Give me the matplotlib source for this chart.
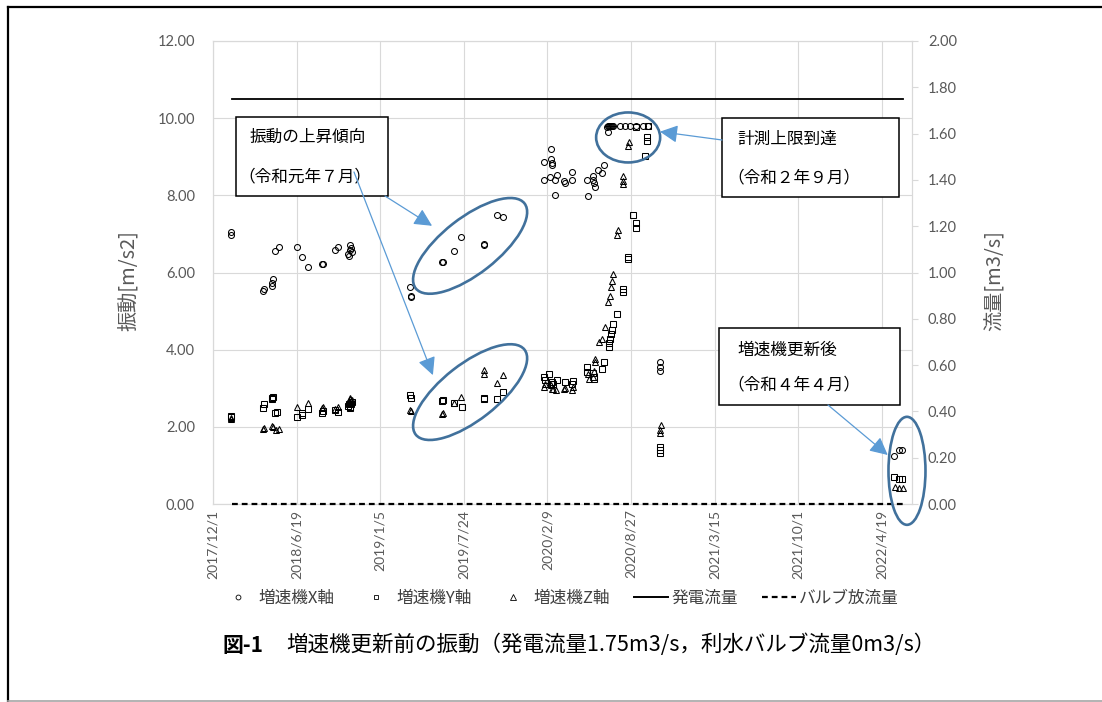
"""Gearbox vibration before replacement, with design flow on the right axis."""
import numpy as np
import matplotlib.pyplot as plt
import matplotlib.transforms as mtransforms
from matplotlib.patches import Ellipse, Rectangle, ConnectionPatch
from matplotlib.lines import Line2D
from matplotlib.ticker import FormatStrFormatter

plt.rcParams['font.family'] = ['Noto Sans CJK JP', 'DejaVu Sans']

START = np.datetime64('2017-12-01')

# measurement day (counted from START) and vibration [m/s2] per axis
x_day = [43, 43, 120, 122, 141, 141, 143, 148, 158, 201, 213, 227, 261, 262, 292, 299,
         323, 325, 327, 328, 330, 332, 471, 474, 474, 548, 549, 576, 593, 648, 649, 679, 694,
         792, 792, 806, 808, 808, 811, 811, 818, 818, 823, 839, 842, 859, 859, 894, 897,
         909, 909, 911, 914, 921, 930, 935, 942, 945, 945, 947, 950, 952, 955, 957, 973,
         985, 997, 1011, 1028, 1040, 1069, 1069, 1069, 1629, 1641, 1648]
x_val = [7.05, 6.97, 5.52, 5.58, 5.64, 5.72, 5.84, 6.55, 6.66, 6.65, 6.40, 6.15, 6.21, 6.23, 6.59, 6.66,
         6.48, 6.42, 6.58, 6.70, 6.63, 6.52, 5.62, 5.40, 5.37, 6.27, 6.28, 6.57, 6.91, 6.74, 6.72, 7.50, 7.45,
         8.87, 8.40, 8.48, 9.20, 8.94, 8.85, 8.79, 8.02, 8.40, 8.53, 8.38, 8.33, 8.61, 8.40, 8.40, 7.97,
         8.51, 8.41, 8.33, 8.21, 8.66, 8.57, 8.79, 9.76, 9.63, 9.80, 9.80, 9.80, 9.80, 9.80, 9.80, 9.80,
         9.80, 9.80, 9.80, 9.80, 9.80, 3.68, 3.55, 3.45, 1.24, 1.40, 1.40]

y_day = [43, 43, 120, 122, 141, 141, 143, 148, 153, 201, 213, 214, 227, 261, 262, 292, 299,
         323, 325, 327, 328, 330, 332, 471, 474, 548, 549, 576, 596, 648, 649, 679, 694,
         792, 794, 804, 808, 811, 813, 823, 842, 859, 862, 894, 894, 909, 911, 911, 930, 935,
         947, 947, 950, 952, 955, 957, 966, 981, 981, 993, 993, 1004, 1011, 1011, 1011, 1033,
         1038, 1038, 1040, 1069, 1069, 1069, 1629, 1641, 1648]
y_val = [2.28, 2.25, 2.48, 2.59, 2.74, 2.72, 2.77, 2.35, 2.38, 2.25, 2.35, 2.31, 2.46, 2.35, 2.41, 2.43, 2.38,
         2.55, 2.60, 2.52, 2.48, 2.58, 2.65, 2.82, 2.74, 2.67, 2.69, 2.61, 2.51, 2.72, 2.74, 2.73, 2.89,
         3.29, 3.21, 3.36, 3.12, 3.15, 3.10, 3.21, 3.16, 3.12, 3.20, 3.55, 3.42, 3.40, 3.29, 3.23, 3.49, 3.68,
         4.07, 4.16, 4.28, 4.41, 4.50, 4.66, 4.93, 5.58, 5.49, 6.40, 6.36, 7.50, 7.27, 7.15, 9.76, 9.03,
         9.50, 9.41, 9.80, 1.48, 1.40, 1.31, 0.69, 0.65, 0.65]

z_day = [43, 43, 120, 122, 141, 143, 151, 158, 201, 227, 261, 262, 292, 299,
         323, 325, 327, 328, 330, 332, 471, 474, 548, 549, 576, 593, 648, 649, 679, 694,
         792, 794, 808, 811, 813, 820, 839, 842, 859, 862, 897, 899, 909, 911, 914, 914,
         923, 930, 937, 945, 950, 952, 955, 957, 966, 969, 981, 981, 981, 993, 995,
         1069, 1069, 1071, 1631, 1641, 1650]
z_val = [2.22, 2.20, 1.95, 1.97, 2.03, 2.00, 1.91, 1.94, 2.52, 2.61, 2.48, 2.52, 2.45, 2.51,
         2.62, 2.68, 2.72, 2.75, 2.66, 2.70, 2.43, 2.41, 2.33, 2.36, 2.63, 2.77, 3.48, 3.38, 3.14, 3.34,
         3.03, 3.10, 3.08, 2.98, 2.97, 2.95, 2.97, 3.00, 2.95, 3.02, 3.36, 3.25, 3.30, 3.45, 3.77, 3.68,
         4.20, 4.28, 4.60, 5.23, 5.40, 5.62, 5.79, 5.97, 6.98, 7.09, 8.29, 8.38, 8.51, 9.28, 9.37,
         1.83, 1.91, 2.04, 0.43, 0.42, 0.42]

# flows [m3/s] over the measurement period
flow_day = [45, 1650]
gen_flow = [1.75, 1.75]
valve_flow = [0.0, 0.0]

tick_day = np.arange(0, 1601, 200)


def day_label(d):
    t = (START + np.timedelta64(int(d), 'D')).astype(object)
    return f"{t.year}/{t.month}/{t.day}"


W, H, DPI = 1102, 702, 100
GREY, GRID = '#595959', '#d9d9d9'
DASH = (0, (2.6, 1.8))
fig = plt.figure(figsize=(W / DPI, H / DPI), dpi=DPI)
px = mtransforms.Affine2D().scale(1 / DPI, -1 / DPI).translate(0, H / DPI) + fig.dpi_scale_trans

ax = fig.add_axes([213 / W, 1 - 504 / H, (912 - 213) / W, (504 - 41) / H])
ax2 = ax.twinx()

mk = dict(ls='none', mfc='none', mec='black', mew=0.75, zorder=3)
ax.plot(x_day, x_val, marker='o', ms=4.3, **mk)
ax.plot(y_day, y_val, marker='s', ms=4.1, **mk)
ax.plot(z_day, z_val, marker='^', ms=4.7, **mk)
ax2.plot(flow_day, gen_flow, color='black', lw=1.3)
ax2.plot(flow_day, valve_flow, color='black', lw=1.6, ls=DASH, clip_on=False, zorder=4)

ax.set_xlim(0, 1672)
ax.set_ylim(0, 12)
ax2.set_ylim(0, 2)
ax.set_yticks(np.arange(0, 12.1, 2))
ax2.set_yticks(np.arange(0, 2.01, 0.2))
ax.yaxis.set_major_formatter(FormatStrFormatter('%.2f'))
ax2.yaxis.set_major_formatter(FormatStrFormatter('%.2f'))
ax.set_xticks(tick_day)
ax.set_xticklabels([day_label(d) for d in tick_day], rotation=90, family='Lato')
ax.grid(True, color=GRID, lw=0.8)
ax.set_axisbelow(True)
for a in (ax, ax2):
    for s in a.spines.values():
        s.set_color(GRID)
        s.set_linewidth(0.8)
ax.tick_params(axis='y', length=0, pad=13, labelsize=10.5, labelcolor=GREY)
ax.tick_params(axis='x', length=0, pad=4, labelsize=10, labelcolor=GREY)
ax2.tick_params(axis='y', length=4.5, color=GRID, pad=7, labelsize=10.5, labelcolor=GREY)
for lab in ax.get_yticklabels() + ax2.get_yticklabels():
    lab.set_family('Lato')

ax.set_ylabel('振動[m/s2]', fontsize=14.5, color=GREY)
ax.yaxis.set_label_coords(-0.104, 0.482)
ax2.set_ylabel('流量[m3/s]', fontsize=14.5, color=GREY, rotation=90)
ax2.yaxis.set_label_coords(1.104, 0.482)

# ellipses: centre in data units, size in inches
ell_color = '#41719c'
for cx, cy, w, h, ang in [(615, 6.69, 1.38, 0.56, 38), (615, 2.90, 1.38, 0.56, 38),
                          (993, 9.50, 0.64, 0.50, 0), (1660, 0.86, 0.37, 1.08, 0)]:
    tr = fig.dpi_scale_trans + mtransforms.ScaledTranslation(cx, cy, ax.transData)
    fig.add_artist(Ellipse((0, 0), w, h, angle=ang, transform=tr, fill=False,
                           ec=ell_color, lw=1.9, zorder=5))

# callout boxes
boxes = [((236, 117, 388, 196), [(250, 137, '振動の上昇傾向'), (238, 177, '（令和元年７月）')]),
         ((722, 118, 899, 197), [(737, 139, '計測上限到達'), (727, 178, '（令和２年９月）')]),
         ((719, 328, 900, 405), [(737, 350, '増速機更新後'), (727, 385, '（令和４年４月）')])]
for (x0, y0, x1, y1), lines in boxes:
    fig.add_artist(Rectangle((x0, y0), x1 - x0, y1 - y0, transform=px, fc='white',
                             ec='black', lw=1.1, zorder=6))
    for tx, ty, s in lines:
        fig.text(tx, ty, s, transform=px, fontsize=12, va='center', ha='left', zorder=7)

arrow_kw = dict(arrowstyle='-|>,head_length=0.6,head_width=0.3', mutation_scale=18,
                color='#5b9bd5', lw=0.9, zorder=8)
for start, tip in [((385, 196), (524, 7.21)), ((354, 172), (526, 3.34)),
                   ((722, 140), (1069, 9.65)), ((828, 405), (1614, 1.27))]:
    fig.add_artist(ConnectionPatch(start, tip, coordsA=px, coordsB=ax.transData, **arrow_kw))

handles = [Line2D([], [], marker='o', ls='none', mfc='none', mec='black', mew=0.6, ms=3.5),
           Line2D([], [], marker='s', ls='none', mfc='none', mec='black', mew=0.6, ms=3.5),
           Line2D([], [], marker='^', ls='none', mfc='none', mec='black', mew=0.6, ms=3.8),
           Line2D([], [], color='black', lw=1.4),
           Line2D([], [], color='black', lw=1.6, ls=DASH)]
names = ['増速機X軸', '増速機Y軸', '増速機Z軸', '発電流量', 'バルブ放流量']
leg = fig.legend(handles, names, ncol=5, frameon=False, loc='center',
                 bbox_to_anchor=(560 / W, 1 - 598 / H), fontsize=12,
                 handlelength=2.05, handletextpad=0.2, columnspacing=1.45)
for t in leg.get_texts():
    t.set_color('#404040')

fig.text(222, 645, '図-1', transform=px, fontsize=15, fontweight='bold', va='center')
fig.text(286, 645, '増速機更新前の振動（発電流量1.75m3/s，利水バルブ流量0m3/s）',
         transform=px, fontsize=15.5, va='center')

# page frame
fig.add_artist(Line2D([8, 8], [7, 701], transform=px, color='black', lw=1.6))
fig.add_artist(Line2D([8, W], [7, 7], transform=px, color='black', lw=1.6))
fig.add_artist(Line2D([8, W], [701, 701], transform=px, color='#a6a6a6', lw=1.2))

fig.savefig('out.png', dpi=DPI, facecolor='white')
